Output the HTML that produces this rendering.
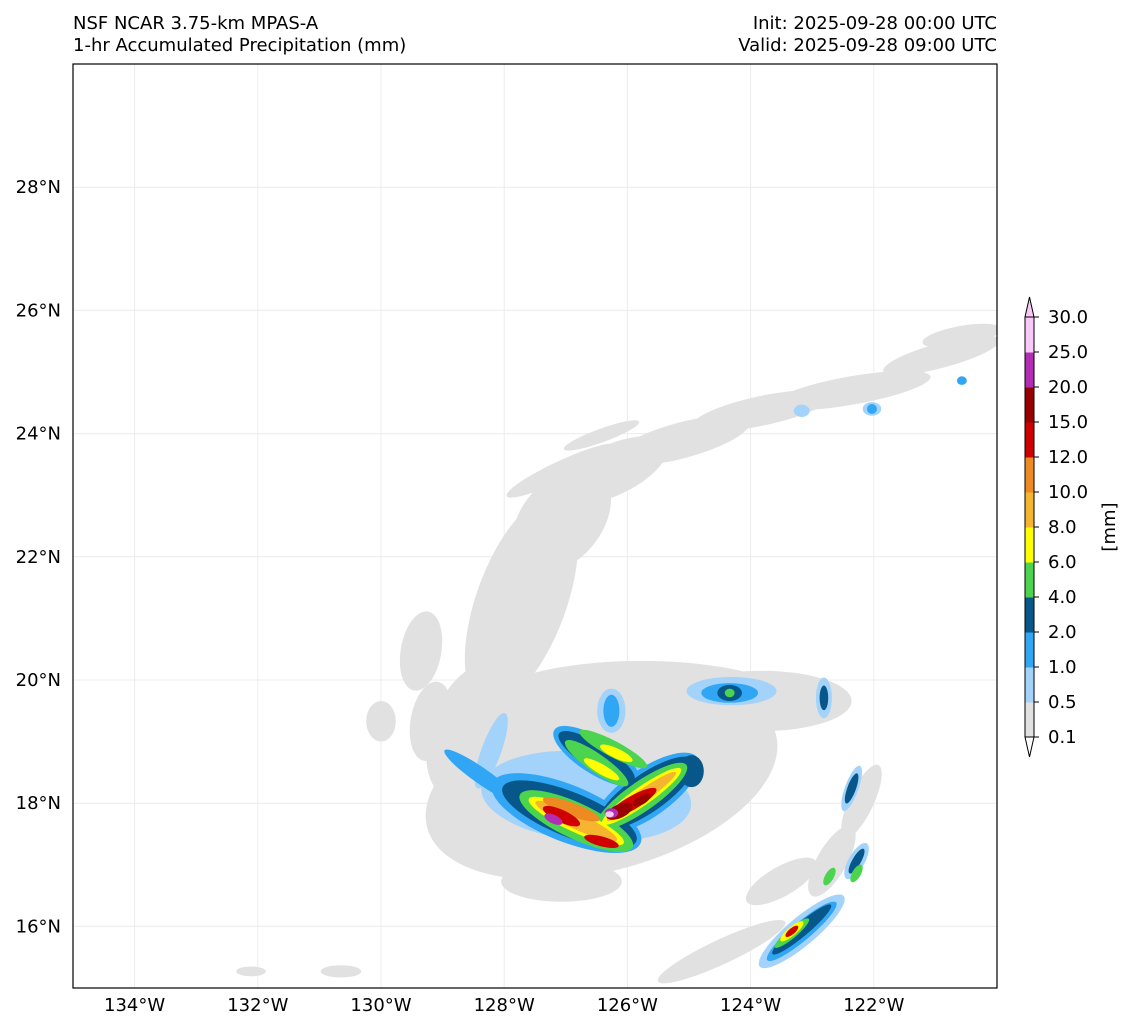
<!DOCTYPE html>
<html><head><meta charset="utf-8">
<style>
html,body{margin:0;padding:0;background:#fff;}
svg{display:block;font-family:"DejaVu Sans","Liberation Sans",sans-serif;}
</style></head>
<body>
<svg id="chart" width="1133" height="1032" viewBox="0 0 1133 1032">
<text x="73" y="29" font-size="18">NSF NCAR 3.75-km MPAS-A</text>
<text x="73" y="51" font-size="18">1-hr Accumulated Precipitation (mm)</text>
<text x="997" y="29" font-size="18" text-anchor="end">Init: 2025-09-28 00:00 UTC</text>
<text x="997" y="51" font-size="18" text-anchor="end">Valid: 2025-09-28 09:00 UTC</text>
<defs><clipPath id="mapclip"><rect x="73" y="64" width="924" height="924"/></clipPath></defs>
<g id="grid"></g>
<g id="precip" clip-path="url(#mapclip)"></g>
<rect x="73" y="64" width="924" height="924" fill="none" stroke="#000" stroke-width="1.2"/>
<g id="axes"></g>
<g id="cbar"></g>
<text transform="translate(1115,527) rotate(-90)" font-size="18" text-anchor="middle">[mm]</text>
</svg>
<script>
const lonTicks = [-134,-132,-130,-128,-126,-124,-122];
const latTicks = [16,18,20,22,24,26,28];
const levelLabels = ["0.1","0.5","1.0","2.0","4.0","6.0","8.0","10.0","12.0","15.0","20.0","25.0","30.0"];
const levelColors = ["#e1e1e1","#a3d3fa","#30a6f4","#08578a","#4cd44e","#ffff00","#f6b52e","#ee8a22","#d10000","#990000","#b22cb4","#f8c8f8"];

const blobLon = [-127.72,-127.07,-126.26,-125.12,-123.82,-122.36,-120.9,-120.57,-127.07,-126.42,-126.42,-125.77,-123.82,-128.54,-129.19,-130.0,-127.07,-122.2,-122.68,-123.5,-124.47,-132.11,-130.65,-129.35,
 -126.67,-128.21,-124.31,-122.81,-122.36,-123.17,-122.28,-126.26,-122.03,-123.17,
 -126.99,-125.69,-126.5,-124.34,-126.26,-123.17,-128.37,-122.03,-120.57,
 -126.94,-125.69,-126.5,-124.34,-122.81,-122.36,-123.17,-124.96,-122.28,
 -126.83,-125.77,-126.5,-126.23,-124.34,-123.33,-122.72,-122.28,
 -126.83,-125.77,-126.42,-126.18,-123.33,
 -126.83,-125.77,
 -126.91,
 -127.07,-126.42,-125.93,-123.33,
 -126.13,-125.77,
 -127.2,-126.26,
 -126.29];
const blobLat = [21.28,22.59,23.4,23.89,24.37,24.7,25.27,25.59,23.4,23.97,18.36,19.66,19.66,19.17,19.33,19.33,16.73,18.03,17.06,16.73,15.59,15.27,15.27,20.47,
 18.11,18.85,19.82,19.71,18.24,15.92,17.06,19.5,24.4,24.37,
 17.84,18.16,18.76,19.79,19.5,15.92,18.44,24.4,24.86,
 17.82,18.16,18.75,19.79,19.71,18.24,15.95,18.52,17.06,
 17.71,18.11,18.65,18.88,19.79,15.89,16.81,16.86,
 17.71,18.11,18.55,18.81,15.92,
 17.71,18.11,
 17.9,
 17.79,17.38,18.0,15.92,
 17.87,18.05,
 17.74,17.84,
 17.82];
const blobRx = [0.73,0.65,0.98,1.14,1.14,1.3,0.98,0.65,0.98,0.65,2.93,2.44,1.46,0.65,0.33,0.24,0.98,0.2,0.24,0.65,1.14,0.24,0.33,0.33,
 1.71,0.16,0.73,0.13,0.11,0.89,0.13,0.23,0.15,0.13,
 1.3,1.01,0.81,0.46,0.13,0.73,0.73,0.08,0.08,
 1.17,0.94,0.72,0.2,0.07,0.07,0.62,0.2,0.07,
 1.01,0.89,0.62,0.62,0.08,0.36,0.07,0.07,
 0.85,0.78,0.33,0.29,0.24,
 0.73,0.68,
 0.49,
 0.33,0.29,0.46,0.13,
 0.23,0.16,
 0.16,0.11,
 0.07];
const blobRy = [1.79,0.98,0.41,0.29,0.24,0.23,0.2,0.16,0.16,0.11,1.46,0.65,0.49,1.14,0.65,0.33,0.33,0.65,0.65,0.24,0.2,0.08,0.1,0.65,
 0.73,0.65,0.23,0.33,0.39,0.23,0.33,0.36,0.11,0.1,
 0.46,0.39,0.29,0.16,0.26,0.15,0.13,0.08,0.07,
 0.36,0.31,0.21,0.13,0.2,0.26,0.11,0.26,0.23,
 0.29,0.24,0.15,0.13,0.07,0.08,0.16,0.16,
 0.18,0.15,0.08,0.08,0.07,
 0.13,0.1,
 0.11,
 0.1,0.08,0.11,0.05,
 0.11,0.07,
 0.07,0.08,
 0.05];
const blobAng = [20,40,-25,-15,-12,-10,-15,-10,-25,-20,-15,0,0,20,10,0,0,25,30,-30,-25,0,0,10,
 5,20,0,0,20,-40,30,0,0,0,
 22,-35,32,0,0,-40,35,0,0,
 22,-35,32,0,0,20,-40,0,30,
 25,-35,35,28,0,-40,30,30,
 25,-35,30,25,-40,
 25,-35,
 20,
 25,15,-30,-40,
 -25,-30,
 25,0,
 0];
const blobLevel = [0,0,0,0,0,0,0,0,0,0,0,0,0,0,0,0,0,0,0,0,0,0,0,0,
 1,1,1,1,1,1,1,1,1,1,
 2,2,2,2,2,2,2,2,2,
 3,3,3,3,3,3,3,3,3,
 4,4,4,4,4,4,4,4,
 5,5,5,5,5,
 6,6,
 7,
 8,8,8,8,
 9,9,
 10,10,
 11];

const NS = "http://www.w3.org/2000/svg";
const X0 = 73, X1 = 997, Y0 = 64, Y1 = 988;
const LON0 = -135, LON1 = -120, LAT0 = 15, LAT1 = 30;
function xOf(lon){ return X0 + (lon - LON0) / (LON1 - LON0) * (X1 - X0); }
function yOf(lat){ return Y1 - (lat - LAT0) / (LAT1 - LAT0) * (Y1 - Y0); }
const pxPerDeg = (X1 - X0) / (LON1 - LON0);
function mk(tag, attrs, parent){ const e = document.createElementNS(NS, tag); for (const k in attrs) e.setAttribute(k, attrs[k]); parent.appendChild(e); return e; }

const grid = document.getElementById('grid');
const axes = document.getElementById('axes');
lonTicks.forEach(function(lon){
  const x = xOf(lon);
  const gl = mk('line', {x1:x, y1:Y0, x2:x, y2:Y1, stroke:'#ececec', 'stroke-width':1}, grid);
  
  
  const t = mk('text', {x:x, y:1011, 'font-size':18, 'text-anchor':'middle'}, axes);
  t.textContent = Math.abs(lon) + '\u00b0W';
  
  
});
latTicks.forEach(function(lat){
  const y = yOf(lat);
  const gl = mk('line', {x1:X0, y1:y, x2:X1, y2:y, stroke:'#ececec', 'stroke-width':1}, grid);
  
  
  const t = mk('text', {x:61, y:y + 6, 'font-size':18, 'text-anchor':'end'}, axes);
  t.textContent = lat + '\u00b0N';
  
  
});

const precip = document.getElementById('precip');
for (let i = 0; i < blobLon.length; i++){
  const cx = xOf(blobLon[i]), cy = yOf(blobLat[i]);
  const e = mk('ellipse', {cx:cx, cy:cy, rx:blobRx[i] * pxPerDeg, ry:blobRy[i] * pxPerDeg,
    transform:'rotate(' + blobAng[i] + ' ' + cx + ' ' + cy + ')', fill:levelColors[blobLevel[i]]}, precip);
  
  
}

const cbar = document.getElementById('cbar');
const CBX = 1025, CBW = 9, CBBOT = 737, CBTOP = 317;
const step = (CBBOT - CBTOP) / levelColors.length;
levelColors.forEach(function(c, i){
  const r = mk('rect', {x:CBX, y:CBBOT - (i + 1) * step, width:CBW, height:step + 0.5, fill:c}, cbar);
  
  
});
const tb = mk('polygon', {points:(CBX)+','+CBBOT+' '+(CBX+CBW)+','+CBBOT+' '+(CBX+CBW/2)+','+(CBBOT+20), fill:'#ffffff', stroke:'#000', 'stroke-width':1}, cbar);


const tt = mk('polygon', {points:(CBX)+','+CBTOP+' '+(CBX+CBW)+','+CBTOP+' '+(CBX+CBW/2)+','+(CBTOP-20), fill:levelColors[levelColors.length-1], stroke:'#000', 'stroke-width':1}, cbar);


const ob = mk('rect', {x:CBX, y:CBTOP, width:CBW, height:CBBOT - CBTOP, fill:'none', stroke:'#000', 'stroke-width':1}, cbar);


levelLabels.forEach(function(lab, i){
  const y = CBBOT - i * step;
  const tk = mk('line', {x1:CBX + CBW, y1:y, x2:CBX + CBW + 5, y2:y, stroke:'#000', 'stroke-width':1}, cbar);
  
  
  const t = mk('text', {x:1048, y:y + 6, 'font-size':18}, cbar);
  t.textContent = lab;
  
  
});
</script>
</body></html>
